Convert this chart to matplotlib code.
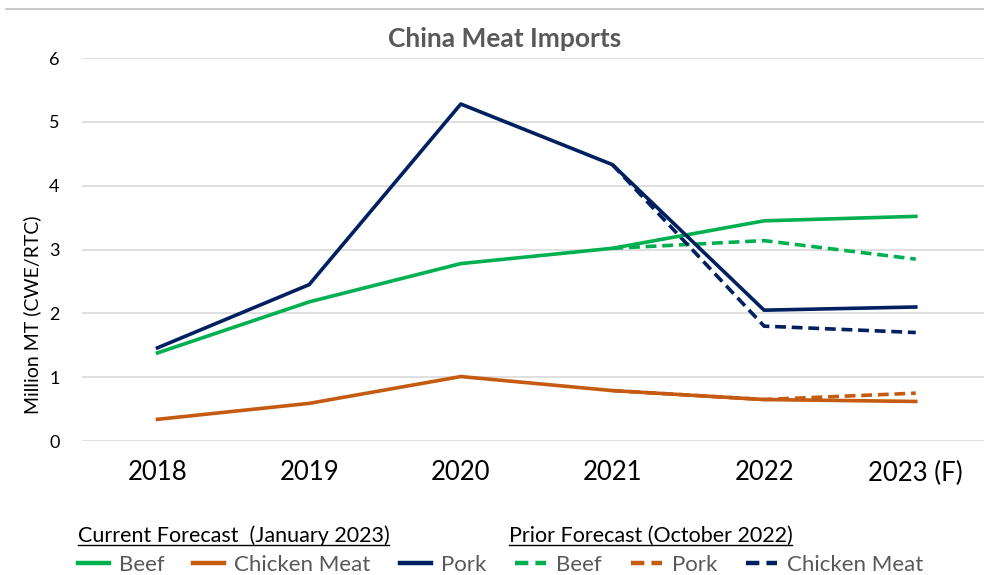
import matplotlib
matplotlib.use('Agg')
import matplotlib.pyplot as plt
from matplotlib.lines import Line2D

plt.rcParams['font.family'] = ['Lato', 'DejaVu Sans']

years = ['2018', '2019', '2020', '2021', '2022', '2023 (F)']

# Current forecast (January 2023)
beef = [1.38, 2.18, 2.78, 3.02, 3.45, 3.52]
chicken = [0.34, 0.59, 1.01, 0.79, 0.65, 0.62]
pork = [1.46, 2.45, 5.28, 4.33, 2.05, 2.10]

# Prior forecast (October 2022), from 2021 on
prior_idx = [3, 4, 5]
beef_prior = [3.02, 3.14, 2.85]
chicken_prior = [0.79, 0.65, 0.75]
pork_prior = [4.33, 1.80, 1.70]

GREEN = '#00B050'
ORANGE = '#C55A11'
NAVY = '#002060'
GRAY = '#595959'

fig = plt.figure(figsize=(9.84, 5.75), dpi=100)
ax = fig.add_axes([0.083, 0.233, 0.917, 0.666])

x = list(range(len(years)))
lw = 2.6
dash = (3.0, 1.6)

# prior lines first so the solid ones sit on top
l_bp, = ax.plot(prior_idx, beef_prior, color=GREEN, lw=lw, dashes=dash)
l_cp, = ax.plot(prior_idx, chicken_prior, color=ORANGE, lw=lw, dashes=dash)
l_pp, = ax.plot(prior_idx, pork_prior, color=NAVY, lw=lw, dashes=dash)
l_b, = ax.plot(x, beef, color=GREEN, lw=lw)
l_c, = ax.plot(x, chicken, color=ORANGE, lw=lw)
l_p, = ax.plot(x, pork, color=NAVY, lw=lw)

ax.set_xlim(-0.5, 5.45)
ax.set_ylim(0, 6)
ax.set_xticks(x)
ax.set_xticklabels(years, fontsize=18.5)
ax.set_yticks(range(7))
ax.tick_params(axis='y', labelsize=13, length=0, pad=16)
ax.tick_params(axis='x', length=0, pad=14)
ax.grid(axis='y', color='#D9D9D9', lw=1.2)
ax.set_axisbelow(True)
for s in ax.spines.values():
    s.set_visible(False)
ax.set_ylabel('Million MT (CWE/RTC)', fontsize=14)
ax.yaxis.set_label_coords(-0.045, 0.33)

fig.text(0.513, 0.932, 'China Meat Imports', ha='center', va='center',
         fontsize=19, fontweight='bold', color=GRAY)

# top border line
fig.add_artist(Line2D([0.006, 1.0], [0.984, 0.984], color='#BFBFBF', lw=1.2))

# legend headers (underlined)
h1 = fig.text(0.079, 0.068, 'Current Forecast  (January 2023)', fontsize=15.5,
              color='black', va='center')
h2 = fig.text(0.517, 0.068, 'Prior Forecast (October 2022)', fontsize=15.5,
              color='black', va='center')

# legend labels as in the original (prior navy/orange labels are swapped there)
leg = fig.legend([l_b, l_c, l_p, l_bp, l_cp, l_pp],
                 ['Beef', 'Chicken Meat', 'Pork', 'Beef', 'Pork', 'Chicken Meat'],
                 ncol=6, loc='center left', bbox_to_anchor=(0.079, 0.017),
                 frameon=False, fontsize=16, handlelength=1.4,
                 handletextpad=0.45, columnspacing=1.3, borderaxespad=0,
                 borderpad=0)
for t in leg.get_texts():
    t.set_color(GRAY)
for hl in leg.get_lines():
    hl.set_linewidth(3.2)

fig.canvas.draw()
r = fig.canvas.get_renderer()
inv = fig.transFigure.inverted()
for h in (h1, h2):
    bb = h.get_window_extent(r)
    (x0, y0), (x1, y1) = inv.transform([(bb.x0, bb.y0), (bb.x1, bb.y1)])
    fig.add_artist(Line2D([x0, x1], [y0 + 0.002, y0 + 0.002], color='black', lw=1))

fig.savefig('out.png', dpi=100)
